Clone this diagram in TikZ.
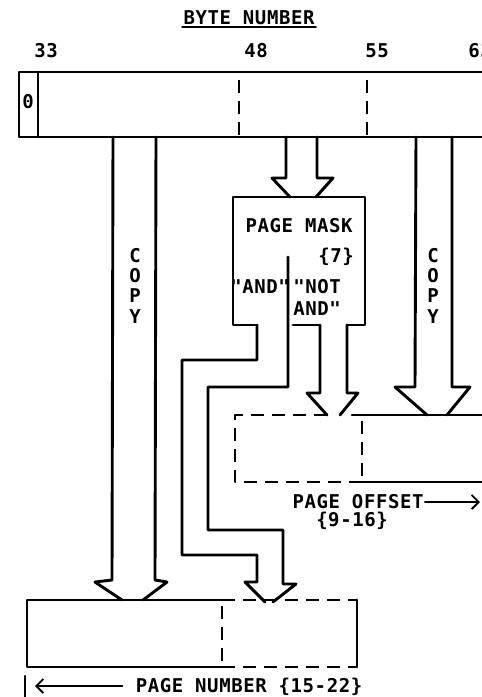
\documentclass[tikz,border=0pt]{standalone}
\usepackage{fontspec}
\setmonofont[LetterSpace=3]{DejaVu Sans Mono}
\usetikzlibrary{arrows.meta,positioning}

\begin{document}
\begin{tikzpicture}[
    x=1pt, y=-1pt,
    font=\ttfamily\bfseries\fontsize{19}{21}\selectfont,
    line width=2.9pt, line join=round, line cap=round,
    lbl/.style={inner sep=0pt, anchor=base},
    dashline/.style={line cap=butt, dash pattern=on 13pt off 8pt},
    pointer/.style={-{Straight Barb[length=7pt,width=14pt,line width=1.8pt]}, line width=1.8pt}
]
\useasboundingbox (0,0) rectangle (482,697);

% heading and byte numbers
\node[lbl] (title) at (249,24) {BYTE NUMBER};
\draw[line width=1.6pt] (title.base west) ++(0,3) -- ++(134,0);
\node[lbl] (b33) at (46,57) {33};
\node[lbl] (b48) at (256,57) {48};
\node[lbl] (b55) at (377,57) {55};
\node[lbl] (b63) at (480,57) {63};

% source register
\draw (500,72) -- (19,72) -- (19,137) -- (500,137);
\draw (38,72) -- (38,137);
\node[lbl] (zero) at (28,108) {0};
\draw[dashline] (239,80) -- (239,137);
\draw[dashline] (367,80) -- (367,137);

% left copy channel
\draw (113,137) -- (112,580) -- (95,582) -- (122,600);
\draw (156,137) -- (155,580) -- (167,582) -- (143,600);
\foreach \c [count=\i] in {C,O,P,Y}
    \node[lbl] (copyL\i) at (135,{242+20.3*\i}) {\c};

% right copy channel
\draw (416,137) -- (415,387) -- (395,387) -- (427,415);
\draw (452,137) -- (452,387) -- (470,387) -- (447,415);
\foreach \c [count=\i] in {C,O,P,Y}
    \node[lbl] (copyR\i) at (433,{242+20.3*\i}) {\c};

% channel into page mask
\draw (286,137) -- (286,178) -- (272,178) -- (290,197);
\draw (317,137) -- (317,178) -- (333,178) -- (316,197);

% page mask
\draw (257,325) -- (233,325) -- (233,197) -- (365,197) -- (365,325) -- (347,325);
\draw (293,325) -- (320,325);
\node[lbl] (mask) at (299,232) {PAGE MASK};
\node[lbl] (maskw) at (336,262) {\{7\}};
\node[lbl] (andl) at (260,293) {"AND"};
\node[lbl, anchor=base west] (notand1) at (292,293) {"NOT};
\node[lbl, anchor=base west] (notand2) at (292,315) {AND"};

% "AND" output to page number
\draw (288,257) -- (288,387) -- (208,387) -- (208,530) -- (283,530)
    -- (283,584) -- (296,584) -- (273,602);
\draw (257,325) -- (257,360) -- (182,360) -- (182,555) -- (257,555)
    -- (257,582) -- (245,582) -- (265,602);

% "NOT AND" output to page offset
\draw (320,325) -- (320,393) -- (307,393) -- (327,415);
\draw (347,325) -- (347,393) -- (358,393) -- (340,415);

% page offset
\draw[dashline] (327,415) -- (235,415) -- (235,482) -- (362,482);
\draw[dashline] (362,421) -- (362,482);
\draw (352,415) -- (500,415);
\draw (362,482) -- (500,482);
\node[lbl] (offset) at (358,508) {PAGE OFFSET};
\node[lbl] (offsetw) at (352,526) {\{9-16\}};
\coordinate (offsetend) at (480,502);
\draw[pointer] (offset.east |- offsetend) -- (offsetend);

% page number
\draw (222,600) -- (27,600) -- (27,667) -- (222,667);
\draw[dashline] (222,600) -- (357,600);
\draw[dashline] (222,667) -- (357,667);
\draw[dashline] (222,606) -- (222,667);
\draw (357,600) -- (357,667);
\node[lbl] (pagenum) at (249,692) {PAGE NUMBER \{15-22\}};
\coordinate (pagenumend) at (35,686);
\draw[pointer] ([xshift=-12pt]pagenum.west |- pagenumend) -- (pagenumend);
\draw[line width=2.2pt] (25,676) -- (25,697);
\end{tikzpicture}
\end{document}
